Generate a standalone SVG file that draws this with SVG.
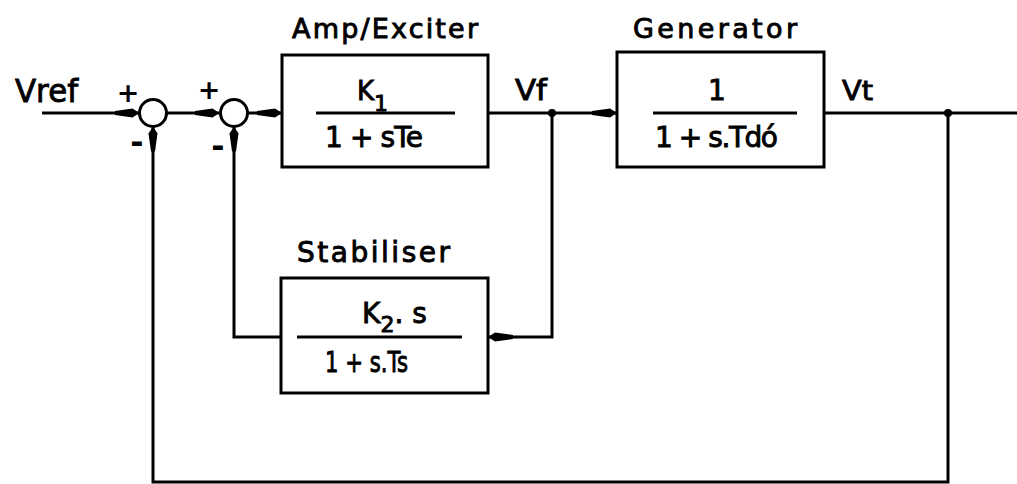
<svg xmlns="http://www.w3.org/2000/svg" width="1017" height="484" viewBox="0 0 1017 484">
<defs>
<style>
.ln{fill:none;stroke:#000;stroke-width:3;stroke-linejoin:miter}
.box{fill:#fff;stroke:#000;stroke-width:3}
.sum{fill:#fff;stroke:#000;stroke-width:3}
.t{font-family:"DejaVu Sans","Liberation Sans",sans-serif;fill:#000;stroke:#000;stroke-width:0.9}
.sg{font-family:"DejaVu Sans","Liberation Sans",sans-serif;font-weight:bold;fill:#000;text-anchor:middle}
</style>
<marker id="ah" markerUnits="userSpaceOnUse" markerWidth="26" markerHeight="11" refX="25" refY="5.5" orient="auto" viewBox="0 0 26 11">
<path d="M0,3.5 L18,1 L25,5.5 L18,10 L0,7.5 z" fill="#000"/>
</marker>
</defs>
<rect width="1017" height="484" fill="#fff"/>
<g id="connectors">
<path class="ln" d="M42,113 L139.5,113" marker-end="url(#ah)"/>
<path class="ln" d="M166.5,113 L219.5,113" marker-end="url(#ah)"/>
<path class="ln" d="M246.5,113 L282,113" marker-end="url(#ah)"/>
<path class="ln" d="M488,113 L617,113" marker-end="url(#ah)"/>
<path class="ln" d="M824,113 L1017,113"/>
<path class="ln" d="M552,113 L552,337 L488,337" marker-end="url(#ah)"/>
<path class="ln" d="M281,337 L234,337 L234,126.5" marker-end="url(#ah)"/>
<path class="ln" d="M948,113 L948,482 L153,482 L153,126.5" marker-end="url(#ah)"/>
<circle cx="552" cy="113" r="4" fill="#000"/>
<circle cx="948" cy="113" r="4" fill="#000"/>
</g>
<g id="vref">
<text class="t" x="15" y="102" font-size="32" textLength="63" lengthAdjust="spacingAndGlyphs">Vref</text>
</g>
<g id="sum1">
<circle class="sum" cx="153" cy="113" r="13.5"/>
<text class="sg" x="128" y="102" font-size="27">+</text>
<text class="sg" x="137" y="153" font-size="32">-</text>
</g>
<g id="sum2">
<circle class="sum" cx="234" cy="113" r="13.5"/>
<text class="sg" x="209" y="99" font-size="27">+</text>
<text class="sg" x="218" y="157" font-size="32">-</text>
</g>
<g id="amp">
<text class="t" x="292" y="38" font-size="27" textLength="186" lengthAdjust="spacing">Amp/Exciter</text>
<rect class="box" x="282" y="55" width="206" height="112"/>
<line class="ln" x1="316" y1="113" x2="455" y2="113"/>
<text class="t" x="357" y="100" font-size="26">K<tspan font-size="22" dy="11">1</tspan></text>
<text class="t" x="325" y="147" font-size="28" textLength="98" lengthAdjust="spacing">1 + sTe</text>
</g>
<g id="vf">
<text class="t" x="515" y="100" font-size="28" textLength="32" lengthAdjust="spacingAndGlyphs">Vf</text>
</g>
<g id="generator">
<text class="t" x="633" y="38" font-size="27" textLength="164" lengthAdjust="spacing">Generator</text>
<rect class="box" x="617" y="52" width="207" height="115"/>
<line class="ln" x1="653" y1="113" x2="797" y2="113"/>
<text class="t" x="717" y="100" font-size="28" text-anchor="middle">1</text>
<text class="t" x="655" y="147" font-size="28" textLength="123" lengthAdjust="spacing">1 + s.Tdó</text>
</g>
<g id="vt">
<text class="t" x="842" y="100" font-size="27" textLength="31" lengthAdjust="spacingAndGlyphs">Vt</text>
</g>
<g id="stabiliser">
<text class="t" x="297" y="262" font-size="28" textLength="153" lengthAdjust="spacing">Stabiliser</text>
<rect class="box" x="281" y="278" width="207" height="115"/>
<line class="ln" x1="297" y1="337" x2="462" y2="337"/>
<text class="t" x="362" y="323" font-size="28">K<tspan font-size="22" dy="9">2</tspan><tspan dy="-9">. s</tspan></text>
<text class="t" x="325" y="372" font-size="28" textLength="83" lengthAdjust="spacingAndGlyphs">1 + s.Ts</text>
</g>
</svg>
